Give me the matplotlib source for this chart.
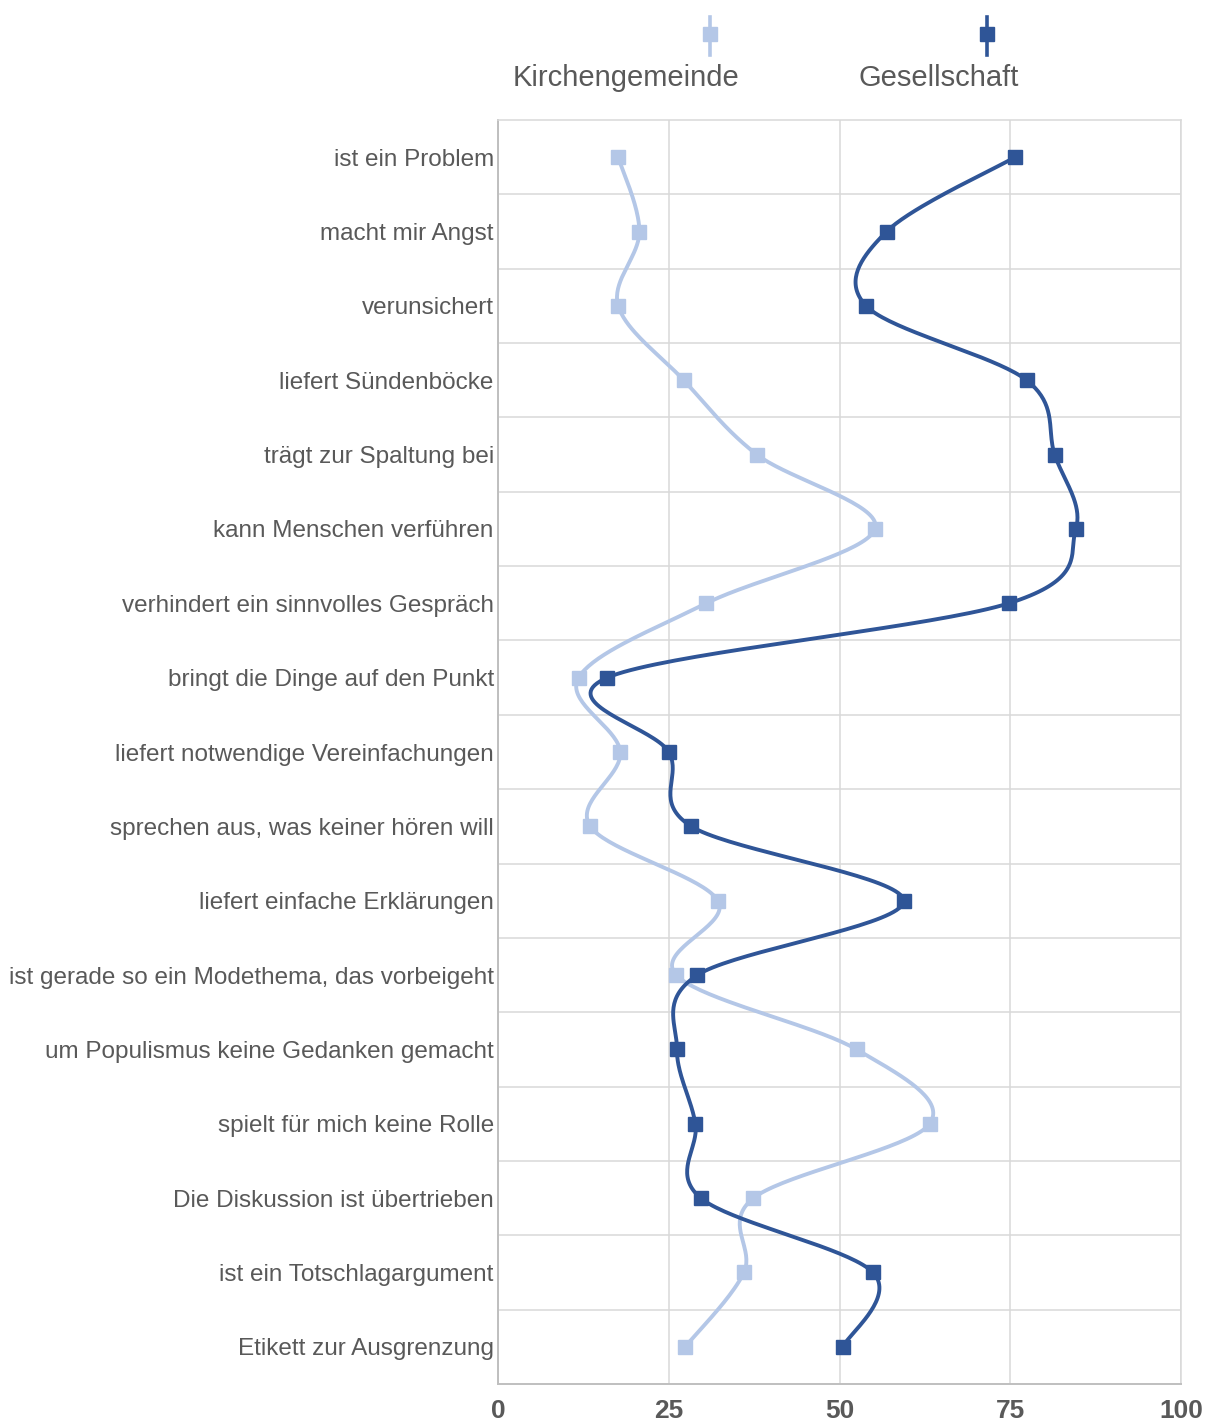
import numpy as np
import matplotlib
matplotlib.use('Agg')
import matplotlib.pyplot as plt
from matplotlib.lines import Line2D

categories = [
    "ist ein Problem",
    "macht mir Angst",
    "verunsichert",
    "liefert Sündenböcke",
    "trägt zur Spaltung bei",
    "kann Menschen verführen",
    "verhindert ein sinnvolles Gespräch",
    "bringt die Dinge auf den Punkt",
    "liefert notwendige Vereinfachungen",
    "sprechen aus, was keiner hören will",
    "liefert einfache Erklärungen",
    "ist gerade so ein Modethema, das vorbeigeht",
    "um Populismus keine Gedanken gemacht",
    "spielt für mich keine Rolle",
    "Die Diskussion ist übertrieben",
    "ist ein Totschlagargument",
    "Etikett zur Ausgrenzung",
]
kirchengemeinde = [17.6, 20.7, 17.6, 27.2, 37.9, 55.2, 30.5, 11.8, 17.9, 13.5,
                   32.2, 26.1, 52.5, 63.2, 37.4, 36.0, 27.4]
gesellschaft = [75.7, 56.9, 53.9, 77.4, 81.5, 84.6, 74.8, 16.0, 25.0, 28.3,
                59.4, 29.2, 26.2, 28.9, 29.7, 54.9, 50.5]
series_names = ["Kirchengemeinde", "Gesellschaft"]
xticks = [0, 25, 50, 75, 100]

LIGHT = "#B4C7E7"
DARK = "#2F5597"
TXT = "#595959"
GRID = "#D9D9D9"
FONT = "Liberation Sans"

W, H = 1210, 1426
fig = plt.figure(figsize=(W / 100, H / 100), dpi=100)
L, R, T, B = 498, 1181, 120, 1384
ax = fig.add_axes([L / W, 1 - B / H, (R - L) / W, (B - T) / H])

n = len(categories)
sx = (R - L) / 100.0
sy = (B - T) / n


def smooth(xs, ys, npts=40):
    P = np.column_stack([np.asarray(xs, float) * sx, np.asarray(ys, float) * sy])
    Pp = np.vstack([P[0], P, P[-1]])
    out = []
    t = np.linspace(0, 1, npts)[:, None]
    for i in range(len(P) - 1):
        p0, p1, p2, p3 = Pp[i], Pp[i + 1], Pp[i + 2], Pp[i + 3]
        c1 = p1 + (p2 - p0) / 6.0
        c2 = p2 - (p3 - p1) / 6.0
        seg = (1 - t) ** 3 * p1 + 3 * (1 - t) ** 2 * t * c1 + 3 * (1 - t) * t ** 2 * c2 + t ** 3 * p2
        out.append(seg if i == 0 else seg[1:])
    pts = np.vstack(out)
    return pts[:, 0] / sx, pts[:, 1] / sy


ypos = np.arange(n)
for vals, col in [(kirchengemeinde, LIGHT), (gesellschaft, DARK)]:
    cx, cy = smooth(vals, ypos)
    ax.plot(cx, cy, color=col, lw=2.8, solid_capstyle='round', solid_joinstyle='round', zorder=3)
    ax.plot(vals, ypos, ls='none', marker='s', ms=9.5, color=col, zorder=4)

ax.set_xlim(0, 100)
ax.set_ylim(n - 0.5, -0.5)
ax.set_xticks(xticks)
ax.set_xticklabels([str(v) for v in xticks], fontfamily=FONT, fontsize=19,
                   fontweight='bold', color=TXT)
ax.set_yticks(ypos)
ax.set_yticklabels(categories, fontfamily=FONT, fontsize=17.5, color=TXT)
ax.set_yticks(np.arange(0.5, n - 0.5, 1.0), minor=True)
ax.tick_params(axis='y', which='both', length=0, pad=3)
ax.tick_params(axis='x', length=0, pad=11)
ax.grid(axis='x', color=GRID, lw=1.1, zorder=0)
ax.grid(axis='y', which='minor', color=GRID, lw=1.1, zorder=0)
ax.grid(axis='y', which='major', visible=False)
ax.set_axisbelow(True)
for s in ['top', 'right']:
    ax.spines[s].set_color(GRID)
    ax.spines[s].set_linewidth(1.1)
for s in ['left', 'bottom']:
    ax.spines[s].set_color("#BFBFBF")
    ax.spines[s].set_linewidth(1.4)


def fx(px):
    return px / W


def fy(py):
    return 1 - py / H


legend_items = [(series_names[0], LIGHT, 710, 626), (series_names[1], DARK, 987, 939)]
for name, col, mx, tx in legend_items:
    fig.add_artist(Line2D([fx(mx), fx(mx)], [fy(17), fy(55)], transform=fig.transFigure,
                          color=col, lw=2.6))
    fig.add_artist(Line2D([fx(mx)], [fy(34)], transform=fig.transFigure, ls='none',
                          marker='s', ms=9.5, color=col))
    fig.text(fx(tx), fy(86), name, ha='center', va='baseline', fontfamily=FONT,
             fontsize=21, color=TXT)

fig.savefig("out.png", dpi=100, facecolor='white')
